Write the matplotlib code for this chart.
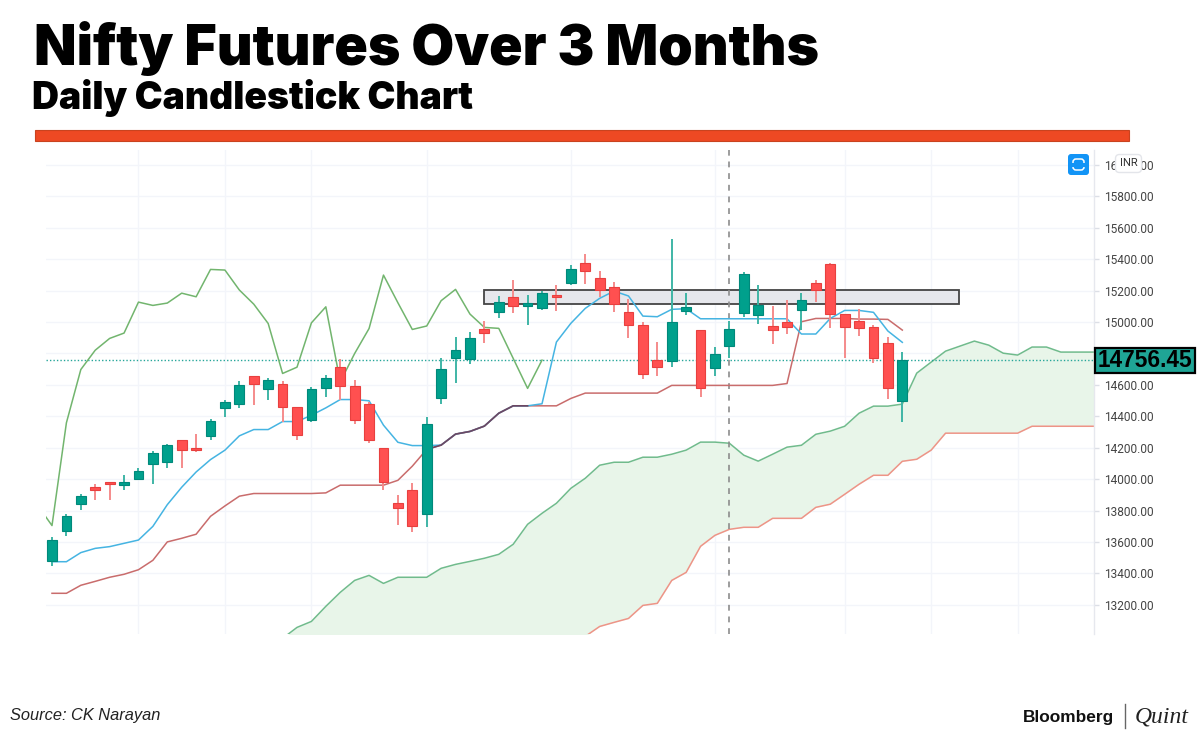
import numpy as np
import matplotlib
matplotlib.use('Agg')
import matplotlib.pyplot as plt
from matplotlib.patches import Rectangle, FancyBboxPatch

# daily candles
opens = [13478, 13671, 13841, 13953, 13981, 13962, 14000, 14097, 14108, 14250,
         14201, 14276, 14452, 14477, 14656, 14575, 14605, 14460, 14376, 14581,
         14713, 14594, 14477, 14201, 13849, 13930, 13779, 14518, 14771, 14764,
         14953, 15064, 15157, 15104, 15089, 15172, 15246, 15376, 15280, 15221,
         15062, 14981, 14758, 14754, 15072, 14949, 14707, 14845, 15057, 15045,
         14972, 15002, 15074, 15251, 15367, 15051, 15006, 14968, 14866, 14497]
highs = [13633, 13781, 13904, 13968, 13981, 14027, 14070, 14182, 14227, 14250,
         14286, 14380, 14501, 14624, 14656, 14643, 14624, 14460, 14588, 14666,
         14766, 14630, 14492, 14201, 13898, 13979, 14397, 14769, 14902, 14936,
         15009, 15168, 15267, 15172, 15200, 15236, 15363, 15433, 15325, 15257,
         15147, 15002, 14875, 15527, 15183, 14949, 14839, 15009, 15319, 15236,
         15102, 15140, 15183, 15267, 15374, 15051, 15081, 14981, 14902, 14807]
lows = [13448, 13637, 13802, 13866, 13870, 13930, 13993, 13968, 14074, 14074,
        14174, 14248, 14397, 14454, 14471, 14503, 14365, 14248, 14361, 14524,
        14503, 14350, 14233, 13930, 13707, 13664, 13696, 14478, 14614, 14730,
        14864, 15028, 15059, 14983, 15074, 15070, 15238, 15242, 15161, 15064,
        14900, 14637, 14658, 14711, 15047, 14524, 14656, 14771, 15034, 14987,
        14860, 14924, 14949, 15130, 14960, 14771, 14913, 14741, 14508, 14367]
closes = [13616, 13764, 13894, 13934, 13970, 13981, 14053, 14165, 14216, 14189,
          14187, 14369, 14490, 14599, 14607, 14630, 14460, 14282, 14571, 14645,
          14596, 14376, 14252, 13981, 13815, 13705, 14350, 14701, 14824, 14898,
          14928, 15127, 15104, 15121, 15187, 15157, 15335, 15327, 15204, 15113,
          14983, 14671, 14711, 15000, 15096, 14578, 14798, 14958, 15304, 15110,
          14949, 14970, 15140, 15206, 15051, 14970, 14960, 14771, 14578, 14758]

# ichimoku lines
tenkan = [13475, 13475, 13533, 13560, 13571, 13592, 13613, 13700, 13838, 13949,
          14046, 14125, 14185, 14276, 14316, 14316, 14367, 14367, 14407, 14454,
          14507, 14507, 14499, 14344, 14235, 14214, 14214, 14217, 14287, 14304,
          14338, 14420, 14467, 14467, 14480, 14873, 14992, 15087, 15151, 15197,
          15166, 15038, 15034, 15081, 15085, 15021, 15021, 15021, 15021, 15021,
          15021, 15021, 14924, 14924, 15023, 15074, 15074, 15062, 14943, 14871]
kijun = [13274, 13274, 13325, 13350, 13376, 13395, 13424, 13484, 13601, 13624,
         13650, 13764, 13830, 13892, 13909, 13909, 13909, 13909, 13909, 13913,
         13962, 13962, 13962, 13962, 13993, 14083, 14190, 14217, 14287, 14304,
         14338, 14420, 14467, 14467, 14467, 14467, 14514, 14548, 14548, 14548,
         14548, 14548, 14548, 14597, 14597, 14597, 14597, 14597, 14597, 14597,
         14597, 14609, 15002, 15023, 15023, 15023, 15019, 15019, 15017, 14949]
# starts one bar left of the first candle, clipped by the axes
chikou = [13834, 13705, 14359, 14698, 14821, 14896, 14930, 15127, 15106, 15121,
          15184, 15161, 15335, 15331, 15204, 15114, 14991, 14673, 14713, 14995,
          15097, 14620, 14800, 14959, 15299, 15123, 14953, 14975, 15136, 15208,
          15051, 14966, 14960, 14769, 14578, 14758]
# cloud runs from bar 16 to bar 73
senkou_a = [12987, 13057, 13095, 13191, 13280, 13356, 13388, 13337, 13376, 13376,
            13376, 13433, 13458, 13477, 13497, 13522, 13586, 13713, 13783, 13847,
            13942, 14006, 14089, 14108, 14108, 14140, 14140, 14159, 14185, 14236,
            14236, 14229, 14153, 14115, 14159, 14204, 14216, 14286, 14306, 14337,
            14420, 14465, 14465, 14478, 14675, 14745, 14815, 14847, 14879, 14853,
            14802, 14790, 14841, 14841, 14809, 14809, 14809, 14809]
# first 21 values lie below the visible range, rough guess
senkou_b = [12700, 12700, 12700, 12700, 12700, 12700, 12700, 12700, 12700, 12700,
            12700, 12750, 12750, 12750, 12750, 12800, 12800, 12850, 12850, 12900,
            12950, 13000, 13063, 13089, 13114, 13197, 13210, 13356, 13407, 13573,
            13643, 13681, 13694, 13694, 13751, 13751, 13751, 13821, 13841, 13904,
            13968, 14025, 14025, 14114, 14127, 14185, 14293, 14293, 14293, 14293,
            14293, 14293, 14337, 14337, 14337, 14337, 14337, 14337]

y_ticks = [13200, 13400, 13600, 13800, 14000, 14200, 14400, 14600, 14800,
           15000, 15200, 15400, 15600, 15800, 16000]
# 14800 sits under the price tag in the original
y_labels = ['13200.00', '13400.00', '13600.00', '13800.00', '14000.00', '14200.00',
            '14400.00', '14600.00', '', '15000.00', '15200.00', '15400.00', '15600.00',
            '15800.00', '16000.00']
x_grid = [6, 12, 18, 26, 36, 46, 55, 61, 67]
last_price = 14756.45
box_low, box_high = 15115, 15204
title = 'Nifty Futures Over 3 Months'
subtitle = 'Daily Candlestick Chart'
source = 'Source: CK Narayan'

GREEN = '#00a08c'
RED = '#ff5050'

fig = plt.figure(figsize=(12, 7.3), dpi=100, facecolor='white')

# chart area in pixels: x 46-1094, y 150-634
ax = fig.add_axes([46 / 1200, (730 - 634) / 730, 1048 / 1200, 484 / 730])
ax.set_xlim(-0.416, 72.3)
ax.set_ylim(13015, 16095)
ax.set_facecolor('none')

for s in ['top', 'left', 'bottom']:
    ax.spines[s].set_visible(False)
ax.spines['right'].set_color('#e6e8ee')
ax.spines['right'].set_linewidth(1)

ax.yaxis.tick_right()
ax.set_yticks(y_ticks)
ax.set_yticklabels(y_labels, fontsize=8.6, color='#444444', fontfamily='Roboto')
ax.tick_params(axis='y', length=3.4, width=1, color='#dcdfe6', pad=3.5)
ax.set_xticks(x_grid)
ax.tick_params(axis='x', length=0, labelbottom=False)
ax.grid(True, color='#f3f5fa', lw=1)
ax.set_axisbelow(True)

# cloud
xc = np.arange(16, 74)
ax.fill_between(xc, senkou_a, senkou_b, color='#e8f5e9', lw=0, zorder=1)
ax.plot(xc, senkou_a, color='#70bb8c', lw=1.1, zorder=2)
ax.plot(xc, senkou_b, color='#ee9487', lw=1.1, zorder=2)

# resistance band
ax.add_patch(Rectangle((30, box_low), 32.9, box_high - box_low, facecolor='#e6e7ec',
                       edgecolor='#444444', lw=1.3, zorder=2))

ax.axhline(last_price, color='#26a69a', lw=1, ls=(0, (1, 1.5)), zorder=2)
ax.axvline(47, color='#8c8c8c', lw=1.2, ls=(0, (3.5, 3.5)), zorder=2)

x = np.arange(60)
ax.plot(np.arange(-1, 35), chikou, color='#72b56e', lw=1.1, zorder=3)
ax.plot(x, kijun, color='#c96c6c', lw=1.1, zorder=3)
ax.plot(x, tenkan, color='#45b4e2', lw=1.1, zorder=3)
# tenkan sits on top of kijun here, colours mix to a dark purple
ax.plot(x[26:34], kijun[26:34], color='#6d4762', lw=1.2, zorder=3.5)

for i in x:
    up = closes[i] >= opens[i]
    ax.vlines(i, lows[i], highs[i], color='#3fb5a6' if up else '#f58b8b', lw=1.4, zorder=4)
    ax.bar(i, abs(closes[i] - opens[i]), bottom=min(opens[i], closes[i]), width=0.68,
           color=GREEN if up else RED, edgecolor='#00897b' if up else '#e8403f',
           lw=0.8, zorder=5)

# overlay in pixel coordinates for the header, badges and footer
ov = fig.add_axes([0, 0, 1, 1], zorder=5)
ov.set_xlim(0, 1200)
ov.set_ylim(730, 0)
ov.axis('off')
ov.patch.set_alpha(0)

ov.text(34, 65, title, fontsize=39.8, fontweight='black', fontfamily='Inter', color='black',
        va='baseline', ha='left')
ov.text(32, 109, subtitle, fontsize=26.9, fontweight='black', fontfamily='Inter', color='black',
        va='baseline', ha='left')
ov.add_patch(Rectangle((35, 130), 1094, 11, facecolor='#ee4923', edgecolor='#c9431f', lw=0.8))

# price tag
ov.add_patch(Rectangle((1095, 347.5), 100, 25, facecolor='#1fa596', edgecolor='black', lw=1.6))
ov.text(1145, 360.5, f'{last_price:.2f}', fontsize=16.3, fontweight='bold',
        fontfamily='Liberation Sans', color='black', va='center', ha='center')

# INR tag and blue button
ov.add_patch(FancyBboxPatch((1117, 156), 23, 15, boxstyle='round,pad=1.5,rounding_size=4',
                            facecolor='white', edgecolor='#e3e5ea', lw=1))
ov.text(1128.5, 163.5, 'INR', fontsize=8, fontfamily='Roboto', color='#333333', va='center', ha='center')
ov.add_patch(FancyBboxPatch((1070, 156), 17, 17, boxstyle='round,pad=2,rounding_size=3',
                            facecolor='#1294f6', edgecolor='none'))
ov.add_patch(FancyBboxPatch((1073, 159), 11, 11, boxstyle='round,pad=0,rounding_size=3',
                            facecolor='none', edgecolor='white', lw=1.1))
ov.add_patch(Rectangle((1070.5, 162.5), 16, 4, facecolor='#1294f6', edgecolor='none'))

# footer
ov.text(10, 720, source, fontsize=11.8, fontstyle='italic', fontfamily='Liberation Sans',
        color='#222222', va='baseline', ha='left')
ov.text(1023, 722, 'Bloomberg', fontsize=12.4, fontweight='bold', fontfamily='Liberation Sans',
        color='#111111', va='baseline', ha='left')
ov.plot([1125, 1125], [704, 728], color='#666666', lw=1)
ov.text(1135, 722, 'Quint', fontsize=17, fontstyle='italic', fontfamily='Liberation Serif',
        color='#222222', va='baseline', ha='left')

fig.savefig('out.png', dpi=100, facecolor='white')
